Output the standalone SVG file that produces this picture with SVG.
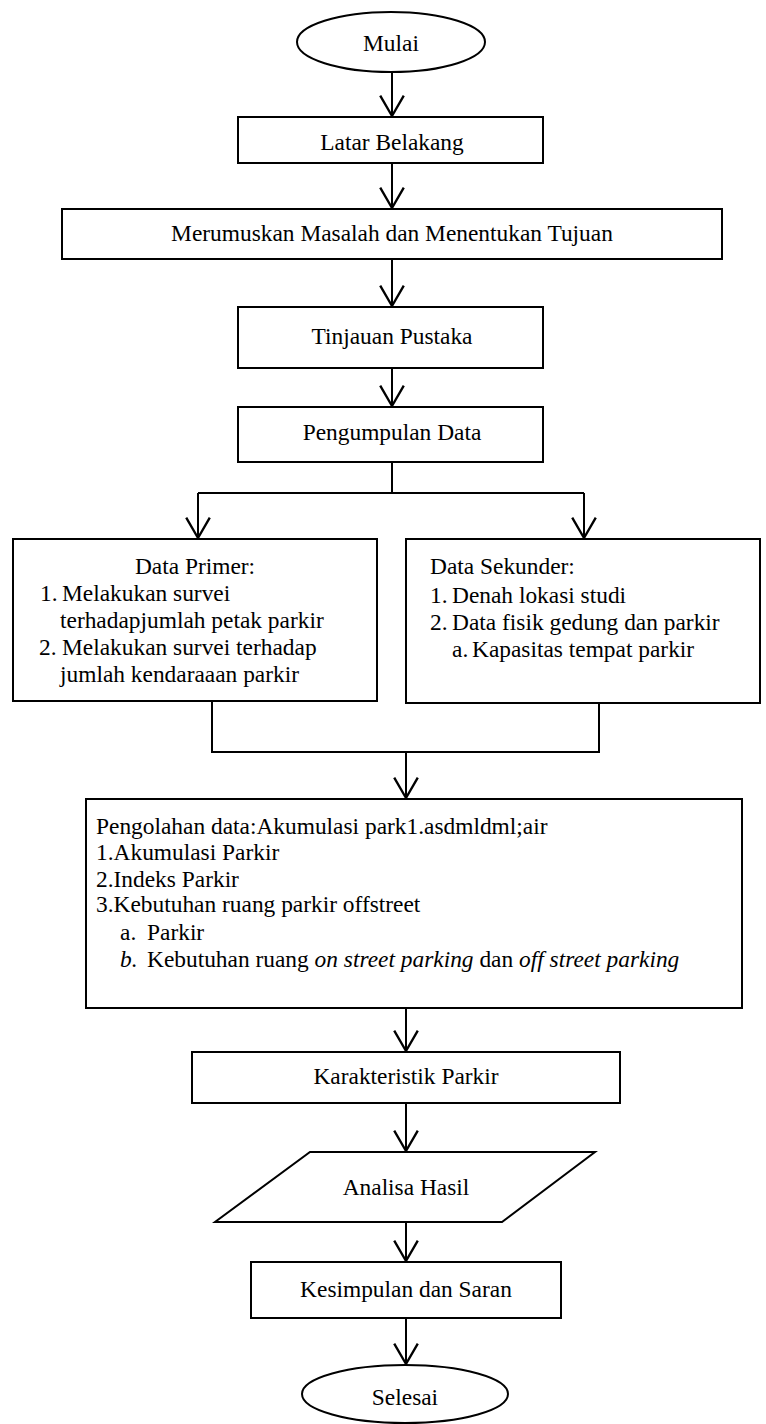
<svg xmlns="http://www.w3.org/2000/svg" width="766" height="1424" viewBox="0 0 766 1424">
<style>
text{font-family:"Liberation Serif","Times New Roman",serif;font-size:23.4px;fill:#000}
.c{text-anchor:middle}
.i{font-style:italic}
.box{fill:#fff;stroke:#000;stroke-width:2}
.ln{fill:none;stroke:#000;stroke-width:2}
</style>
<defs>
<marker id="ah" markerUnits="userSpaceOnUse" markerWidth="30" markerHeight="30" viewBox="-22 -14 26 28" refX="0" refY="0" orient="auto" overflow="visible">
<path d="M-19,-11 L0,0 L-19,11" fill="none" stroke="#000" stroke-width="2.2"/>
</marker>
</defs>
<rect width="766" height="1424" fill="#fff"/>
<g id="connectors">
<line class="ln" x1="392" y1="72" x2="392" y2="116" marker-end="url(#ah)"/>
<line class="ln" x1="392" y1="163" x2="392" y2="208" marker-end="url(#ah)"/>
<line class="ln" x1="392" y1="259" x2="392" y2="306" marker-end="url(#ah)"/>
<line class="ln" x1="392" y1="368" x2="392" y2="406" marker-end="url(#ah)"/>
<polyline class="ln" points="392,462 392,493"/>
<polyline class="ln" points="198,493 584,493"/>
<line class="ln" x1="198" y1="493" x2="198" y2="538" marker-end="url(#ah)"/>
<line class="ln" x1="584" y1="493" x2="584" y2="538" marker-end="url(#ah)"/>
<polyline class="ln" points="212,701 212,752 599,752 599,703"/>
<line class="ln" x1="406" y1="752" x2="406" y2="798" marker-end="url(#ah)"/>
<line class="ln" x1="406" y1="1008" x2="406" y2="1051" marker-end="url(#ah)"/>
<line class="ln" x1="406" y1="1103" x2="406" y2="1151" marker-end="url(#ah)"/>
<line class="ln" x1="406" y1="1222" x2="406" y2="1261" marker-end="url(#ah)"/>
<line class="ln" x1="406" y1="1318" x2="406" y2="1364" marker-end="url(#ah)"/>
</g>
<g id="mulai">
<ellipse class="box" cx="391" cy="42" rx="94" ry="30"/>
<text class="c" x="391" y="51">Mulai</text>
</g>
<g id="latar">
<rect class="box" x="238" y="117" width="305" height="46"/>
<text class="c" x="392" y="150">Latar Belakang</text>
</g>
<g id="merumuskan">
<rect class="box" x="62" y="209" width="660" height="50"/>
<text class="c" x="392" y="241">Merumuskan Masalah dan Menentukan Tujuan</text>
</g>
<g id="tinjauan">
<rect class="box" x="238" y="307" width="305" height="61"/>
<text class="c" x="392" y="344">Tinjauan Pustaka</text>
</g>
<g id="pengumpulan">
<rect class="box" x="238" y="407" width="305" height="55"/>
<text class="c" x="392" y="440">Pengumpulan Data</text>
</g>
<g id="data-primer">
<rect class="box" x="13" y="539" width="364" height="162"/>
<text class="c" x="195" y="574">Data Primer:</text>
<text x="40" y="601">1.</text><text x="62" y="601">Melakukan survei</text>
<text x="60" y="628">terhadapjumlah petak parkir</text>
<text x="39" y="655">2.</text><text x="62" y="655">Melakukan survei terhadap</text>
<text x="60" y="682">jumlah kendaraaan parkir</text>
</g>
<g id="data-sekunder">
<rect class="box" x="406" y="539" width="354" height="164"/>
<text x="430" y="574">Data Sekunder:</text>
<text x="430" y="603">1.</text><text x="452" y="603">Denah lokasi studi</text>
<text x="430" y="630">2.</text><text x="452" y="630">Data fisik gedung dan parkir</text>
<text x="452" y="657">a.</text><text x="472" y="657">Kapasitas tempat parkir</text>
</g>
<g id="pengolahan">
<rect class="box" x="86" y="799" width="656" height="209"/>
<text x="96" y="834">Pengolahan data:Akumulasi park1.asdmldml;air</text>
<text x="96" y="860">1.Akumulasi Parkir</text>
<text x="96" y="887">2.Indeks Parkir</text>
<text x="96" y="912">3.Kebutuhan ruang parkir offstreet</text>
<text x="120" y="940">a.</text><text x="147" y="940">Parkir</text>
<text class="i" x="120" y="967">b.</text><text x="147" y="967">Kebutuhan ruang <tspan class="i">on street parking</tspan> dan <tspan class="i">off street parking</tspan></text>
</g>
<g id="karakteristik">
<rect class="box" x="192" y="1052" width="428" height="51"/>
<text class="c" x="406" y="1084">Karakteristik Parkir</text>
</g>
<g id="analisa">
<polygon class="box" points="310,1152 595,1152 502,1222 215,1222"/>
<text class="c" x="406" y="1195">Analisa Hasil</text>
</g>
<g id="kesimpulan">
<rect class="box" x="251" y="1262" width="310" height="56"/>
<text class="c" x="406" y="1297">Kesimpulan dan Saran</text>
</g>
<g id="selesai">
<ellipse class="box" cx="405" cy="1394" rx="103" ry="29"/>
<text class="c" x="405" y="1405">Selesai</text>
</g>
</svg>
